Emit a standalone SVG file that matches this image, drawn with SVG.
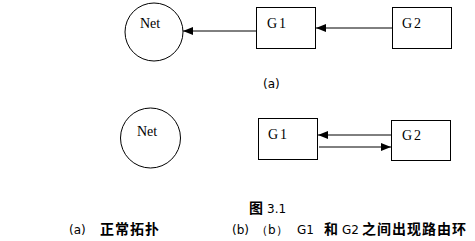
<svg xmlns="http://www.w3.org/2000/svg" width="475" height="241" viewBox="0 0 475 241">
<defs>
<style>
.shape{fill:#fff;stroke:#000;stroke-width:1}
.lbl{font-family:"Liberation Serif",serif;font-size:14px;fill:#000}
.lat{font-family:"DejaVu Sans","Liberation Sans",sans-serif;font-size:12px;fill:#000}
.cjk{font-family:"Noto Sans CJK SC",sans-serif;font-size:14px;font-weight:bold;fill:#000}
.edge{stroke:#000;stroke-width:1;fill:none;marker-end:url(#ah)}
</style>
<marker id="ah" viewBox="0 0 10 8" refX="10" refY="4" markerWidth="10" markerHeight="8" markerUnits="userSpaceOnUse" orient="auto">
<path d="M0,0 L10,4 L0,8 z" fill="#000"/>
</marker>
</defs>
<rect width="475" height="241" fill="#fff"/>
<g id="net-a"><circle class="shape" cx="154" cy="32" r="29"/><text class="lbl" x="140" y="28">Net</text></g>
<g id="g1-a"><rect class="shape" x="256.5" y="7.5" width="59" height="41"/><text class="lbl" x="267" y="28" letter-spacing="2">G1</text></g>
<g id="g2-a"><rect class="shape" x="392.5" y="7.5" width="59" height="41"/><text class="lbl" x="402" y="28" letter-spacing="2">G2</text></g>
<g id="net-b"><circle class="shape" cx="150.5" cy="138" r="30"/><text class="lbl" x="137" y="136">Net</text></g>
<g id="g1-b"><rect class="shape" x="258.5" y="118.5" width="59" height="41"/><text class="lbl" x="268" y="139" letter-spacing="2">G1</text></g>
<g id="g2-b"><rect class="shape" x="391.5" y="120.5" width="59" height="40"/><text class="lbl" x="402" y="140" letter-spacing="2">G2</text></g>
<g id="connectors">
<line class="edge" x1="256" y1="31" x2="183" y2="31"/>
<line class="edge" x1="392" y1="28" x2="316" y2="28"/>
<line class="edge" x1="391" y1="135" x2="318" y2="135"/>
<line class="edge" x1="319" y1="147" x2="391" y2="147"/>
</g>
<text class="lat" x="263" y="88" font-size="11">(a)</text>
<text x="249" y="213"><tspan class="cjk" font-size="13">图</tspan><tspan class="lat" x="267">3.1</tspan></text>
<text y="234"><tspan class="lat" x="69">(a)</tspan><tspan class="cjk" x="100" letter-spacing="1">正常拓扑</tspan><tspan class="lat" x="232">(b)</tspan><tspan class="lat" x="256">（b）</tspan><tspan class="lat" x="297">G1</tspan><tspan class="cjk" x="324">和</tspan><tspan class="lat" x="342">G2</tspan><tspan class="cjk" x="362" letter-spacing="1">之间出现路由环</tspan></text>
</svg>
